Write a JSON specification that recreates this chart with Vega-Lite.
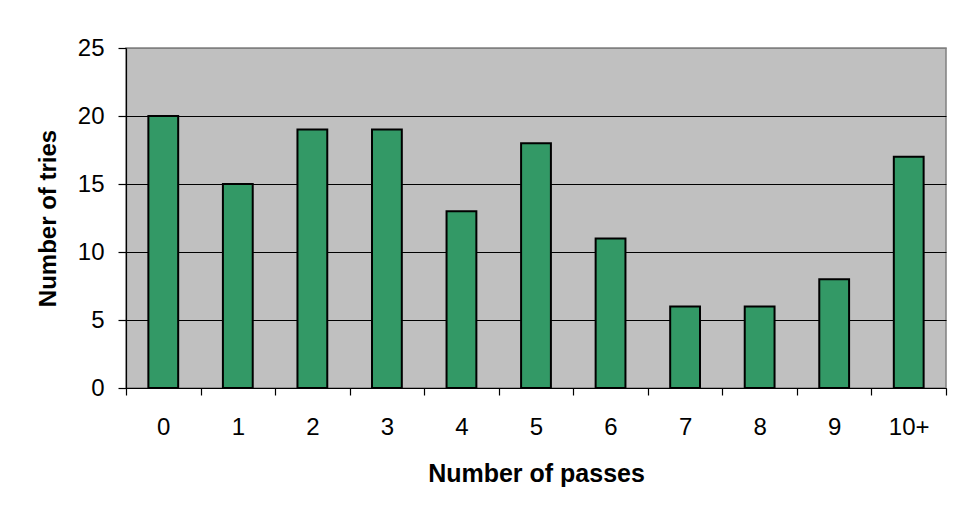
{
  "$schema": "https://vega.github.io/schema/vega-lite/v6.json",
  "width": 820,
  "height": 340,
  "autosize": "none",
  "padding": {"left": 126, "top": 48, "right": 13, "bottom": 128},
  "background": "white",
  "data": {
    "values": [
      {"passes": "0", "tries": 20},
      {"passes": "1", "tries": 15},
      {"passes": "2", "tries": 19},
      {"passes": "3", "tries": 19},
      {"passes": "4", "tries": 13},
      {"passes": "5", "tries": 18},
      {"passes": "6", "tries": 11},
      {"passes": "7", "tries": 6},
      {"passes": "8", "tries": 6},
      {"passes": "9", "tries": 8},
      {"passes": "10+", "tries": 17}
    ]
  },
  "mark": {"type": "bar", "fill": "#339966", "stroke": "#000000", "strokeWidth": 2, "width": {"band": 0.4}},
  "encoding": {
    "x": {
      "field": "passes",
      "type": "ordinal",
      "sort": null,
      "scale": {"paddingInner": 0, "paddingOuter": 0},
      "axis": {
        "title": "Number of passes",
        "labelAngle": 0,
        "tickBand": "extent",
        "tickSize": 7,
        "labelPadding": 20,
        "titlePadding": 22,
        "titleFontSize": 25
      }
    },
    "y": {
      "field": "tries",
      "type": "quantitative",
      "scale": {"domain": [0, 25]},
      "axis": {
        "title": "Number of tries",
        "values": [0, 5, 10, 15, 20, 25],
        "grid": true,
        "gridColor": {"condition": {"test": "datum.value == 25", "value": "#808080"}, "value": "#000000"},
        "gridWidth": 1,
        "gridOpacity": 1,
        "tickSize": 8,
        "labelPadding": 14,
        "titlePadding": 17
      }
    }
  },
  "config": {
    "font": "Liberation Sans",
    "view": {"fill": "#C0C0C0", "stroke": "#808080", "strokeWidth": 1.5},
    "axis": {
      "domainColor": "#000000",
      "domainWidth": 1.2,
      "tickColor": "#000000",
      "tickWidth": 1.2,
      "labelFont": "Liberation Sans",
      "labelFontSize": 24,
      "labelColor": "#000000",
      "titleFont": "Liberation Sans",
      "titleFontSize": 24,
      "titleFontWeight": "bold",
      "titleColor": "#000000"
    }
  }
}
